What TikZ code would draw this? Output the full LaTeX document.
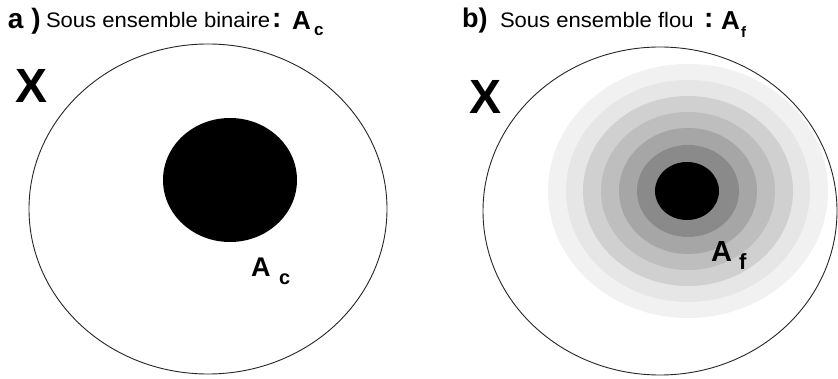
\documentclass[tikz,border=0pt]{standalone}
\usepackage{fontspec}
\usepackage{graphicx}
\setmainfont{Liberation Sans}
\definecolor{ringA}{HTML}{F1F1F1}
\definecolor{ringB}{HTML}{E6E6E6}
\definecolor{ringC}{HTML}{D0D0D0}
\definecolor{ringD}{HTML}{BEBEBE}
\definecolor{ringE}{HTML}{A6A6A6}
\definecolor{ringF}{HTML}{8A8A8A}
\tikzset{
  lbl/.style={anchor=base west, inner sep=0pt, outer sep=0pt},
  universe/.style={draw=black!85, line width=0.9pt},
}
\newcommand{\bigbold}[1]{\fontsize{#1}{#1}\selectfont\bfseries}
\newcommand{\plainsz}[1]{\fontsize{#1}{#1}\selectfont}
\begin{document}
\begin{tikzpicture}[x=1pt,y=-1pt]
\useasboundingbox (0,0) rectangle (838,379);
\fill[white] (0,0) rectangle (838,379);
% ---- panel a
\draw[universe] (208,209) ellipse [x radius=179, y radius=165];
\fill[black] (230,180) ellipse [x radius=67, y radius=62];
\node[lbl, font=\bigbold{28}] (ta) at (8,29) {a )};
\node[lbl, font=\plainsz{21}] (sa) at (46,28) {\scalebox{1.05}[1]{Sous ensemble binaire}};
\node[lbl, font=\bigbold{28}] (ca) at (272,28) {:};
\node[lbl, font=\bigbold{26}] (aa) at (292,30) {A};
\node[lbl, font=\bigbold{17}] (aas) at (314,36) {c};
\node[lbl, font=\bigbold{48}] (xa) at (15,103) {X};
\node[lbl, font=\bigbold{27}] (ac) at (251,277) {A};
\node[lbl, font=\bigbold{20}] (acs) at (279,285) {c};
% ---- panel b
\draw[universe] (660,211) ellipse [x radius=177, y radius=164];
\fill[ringA] (688,191) ellipse [x radius=140, y radius=127];
\fill[ringB] (688,191) ellipse [x radius=122, y radius=111];
\fill[ringC] (688,191) ellipse [x radius=105, y radius=95];
\fill[ringD] (688,191) ellipse [x radius=87, y radius=79];
\fill[ringE] (688,191) ellipse [x radius=69, y radius=63];
\fill[ringF] (688,191) ellipse [x radius=51, y radius=46];
\fill[black] (687,191) ellipse [x radius=32, y radius=29];
\node[lbl, font=\bigbold{27}] (tb) at (462,28) {b)};
\node[lbl, font=\plainsz{21}] (sb) at (500,28) {\scalebox{1.05}[1]{Sous ensemble flou}};
\node[lbl, font=\bigbold{28}] (cb) at (704,28) {:};
\node[lbl, font=\bigbold{26}] (ab) at (721,30) {A};
\node[lbl, font=\bigbold{15}] (abs) at (741,38) {f};
\node[lbl, font=\bigbold{48}] (xb) at (469,114) {X};
\node[lbl, font=\bigbold{29}] (af) at (711,262) {A};
\node[lbl, font=\bigbold{22}] (afs) at (739,270) {f};
\end{tikzpicture}
\end{document}
